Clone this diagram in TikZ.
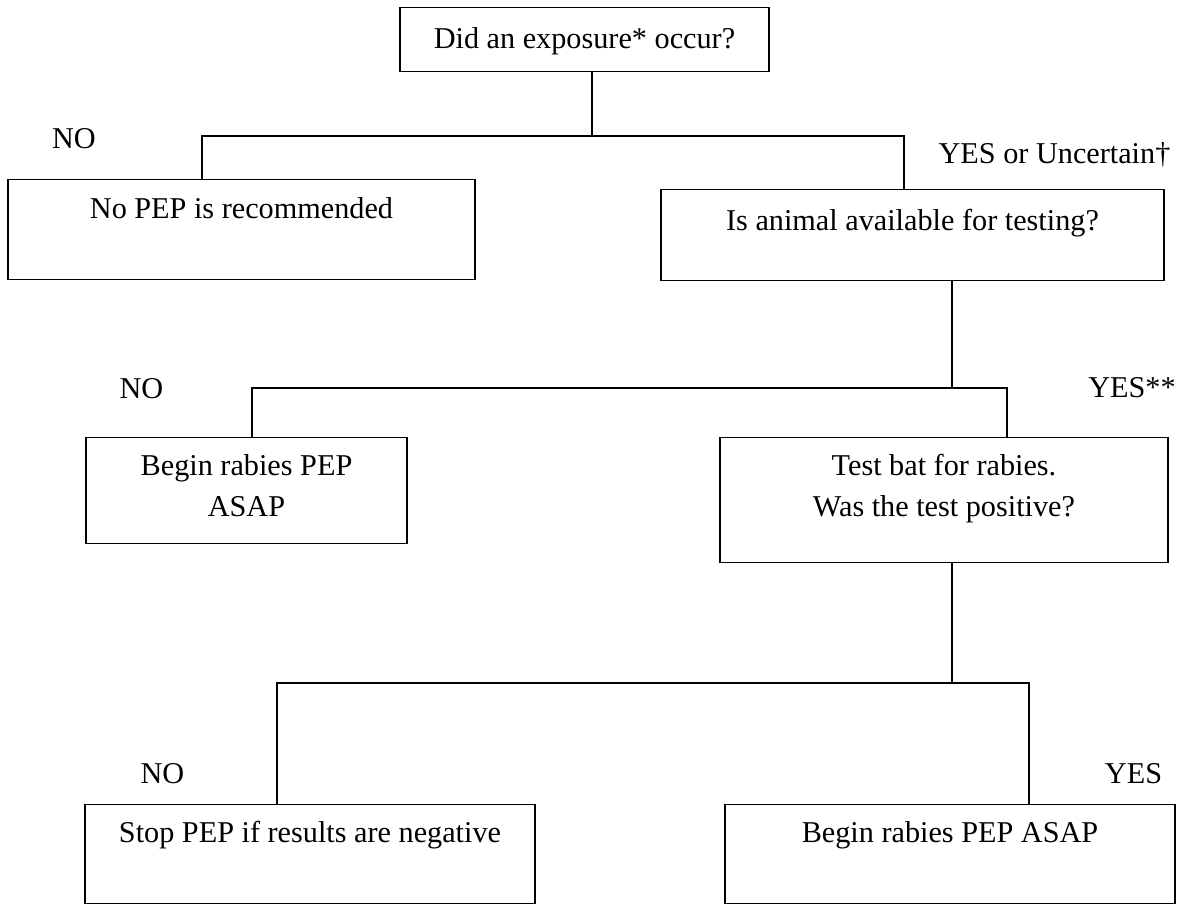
\documentclass[tikz,border=0pt]{standalone}
\usepackage{fontspec}
\setmainfont{Liberation Serif}
\usetikzlibrary{calc}
\newcommand{\flowfont}{\fontsize{21.5pt}{29pt}\selectfont}
\tikzset{
  qbox/.style={rectangle, draw=black, line width=1pt, inner sep=0pt, align=center, anchor=north, font=\flowfont},
  qlabel/.style={inner sep=0pt, anchor=base, font=\flowfont},
  qwire/.style={draw=black, line width=1pt}
}

\begin{document}
\begin{tikzpicture}[x=0.025cm, y=-0.025cm]
  \useasboundingbox (0,0) rectangle (1178,904);
  % boxes
  \node[qbox, minimum width=9.225cm, text height=1.025cm, text depth=0.575cm] (exposure) at (584.5,7) {Did an exposure* occur?};
  \node[qbox, minimum width=11.675cm, text height=0.975cm, text depth=1.525cm] (nopep) at (241.5,179) {No PEP is recommended};
  \node[qbox, minimum width=12.575cm, text height=1.025cm, text depth=1.25cm] (avail) at (912.5,189) {Is animal available for testing?};
  \node[qbox, minimum width=8.025cm, text height=1.975cm, text depth=0.675cm] (pepleft) at (246.5,437) {Begin rabies PEP\\ASAP};
  \node[qbox, minimum width=11.2cm, text height=1.975cm, text depth=1.15cm] (testbat) at (944,437) {Test bat for rabies.\\Was the test positive?};
  \node[qbox, minimum width=11.25cm, text height=0.95cm, text depth=1.525cm] (stoppep) at (310,804) {Stop PEP if results are negative};
  \node[qbox, minimum width=11.25cm, text height=0.95cm, text depth=1.525cm] (pepright) at (950,804) {Begin rabies PEP ASAP};
  % labels
  \node[qlabel] (no1) at (74,148) {NO};
  \node[qlabel] (yes1) at (1054.5,163) {YES or Uncertain†};
  \node[qlabel] (no2) at (141.5,398) {NO};
  \node[qlabel] (yes2) at (1132,397) {YES**};
  \node[qlabel] (no3) at (162.5,783) {NO};
  \node[qlabel] (yes3) at (1133.5,783) {YES};
  % junctions
  \coordinate (j1) at (592,136);
  \coordinate (j1l) at (202,136);
  \coordinate (j1r) at (904,136);
  \coordinate (j2) at (952,388);
  \coordinate (j2l) at (252,388);
  \coordinate (j2r) at (1007,388);
  \coordinate (j3) at (952,683);
  \coordinate (j3l) at (277,683);
  \coordinate (j3r) at (1029,683);
  % wires
  \draw[qwire] (exposure.south -| j1) -- (j1);
  \draw[qwire] (nopep.north -| j1l) -- (j1l) -- (j1r) -- (avail.north -| j1r);
  \draw[qwire] (avail.south -| j2) -- (j2);
  \draw[qwire] (pepleft.north -| j2l) -- (j2l) -- (j2r) -- (testbat.north -| j2r);
  \draw[qwire] (testbat.south -| j3) -- (j3);
  \draw[qwire] (stoppep.north -| j3l) -- (j3l) -- (j3r) -- (pepright.north -| j3r);
\end{tikzpicture}
\end{document}
